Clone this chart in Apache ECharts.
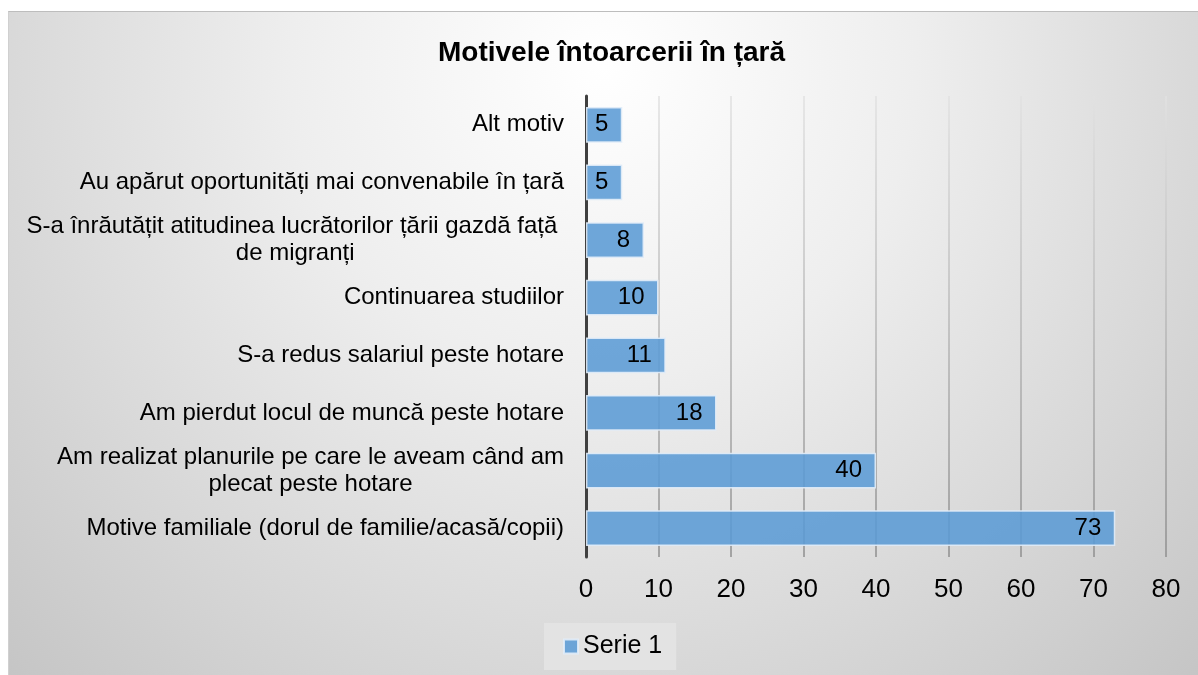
<!DOCTYPE html>
<html>
<head>
<meta charset="utf-8">
<script src="https://cdn.jsdelivr.net/npm/echarts@6/dist/echarts.min.js"></script>
<style>
  html, body { margin: 0; padding: 0; background: #ffffff; }
  #frame {
    position: absolute; left: 8px; top: 11px; width: 1190px; height: 664px;
    box-sizing: border-box; border-top: 1px solid #bdbdbd; border-left: 1px solid #d0d0d0;
  }
  #chart { width: 100%; height: 100%; }
</style>
</head>
<body>
<div id="frame"><div id="chart"></div></div>
<script>
// categorii (de jos in sus, ca pe axa ECharts)
var categories = [
  'Motive familiale (dorul de familie/acasă/copii)',
  'Am realizat planurile pe care le aveam când am\nplecat peste hotare',
  'Am pierdut locul de muncă peste hotare',
  'S-a redus salariul peste hotare',
  'Continuarea studiilor',
  'S-a înrăutățit atitudinea lucrătorilor țării gazdă față \nde migranți',
  'Au apărut oportunități mai convenabile în țară',
  'Alt motiv'
];
var values = [73, 40, 18, 11, 10, 8, 5, 5];
var seriesName = 'Serie 1';
var chartTitle = 'Motivele întoarcerii în țară';

var font = 'Arial, "Liberation Sans", sans-serif';
var myChart = echarts.init(document.getElementById('chart'));

var option = {
  animation: false,
  backgroundColor: {
    type: 'radial', x: 0.5, y: 0.08, r: 1.35,
    colorStops: [
      { offset: 0, color: '#ffffff' },
      { offset: 0.35, color: '#eeeeee' },
      { offset: 1, color: '#c2c2c2' }
    ]
  },
  title: {
    text: chartTitle,
    left: 424,
    top: 22,
    textStyle: { fontFamily: font, fontSize: 28, fontWeight: 'bold', color: '#000000' }
  },
  legend: {
    data: [seriesName],
    left: 535,
    top: 611,
    backgroundColor: '#e3e3e3',
    padding: [11, 14, 11, 19],
    itemWidth: 14,
    itemHeight: 14,
    itemGap: 8,
    icon: 'rect',
    textStyle: { fontFamily: font, fontSize: 25, color: '#000000' }
  },
  grid: { left: 577, right: 32, top: 84, bottom: 118, containLabel: false },
  xAxis: {
    type: 'value',
    min: 0,
    max: 80,
    interval: 10,
    axisLine: { show: false },
    axisTick: { show: false },
    axisLabel: { fontFamily: font, fontSize: 26, color: '#000000', margin: 20 },
    splitLine: {
      show: true,
      lineStyle: {
        width: 1.5,
        color: {
          type: 'linear', x: 0, y: 0, x2: 0, y2: 1,
          colorStops: [
            { offset: 0, color: '#e2e2e2' },
            { offset: 1, color: '#8e8e8e' }
          ]
        }
      }
    }
  },
  yAxis: {
    type: 'category',
    data: categories,
    axisLine: { show: true, lineStyle: { color: '#404040', width: 3 } },
    axisTick: { show: false },
    axisLabel: {
      margin: 22,
      formatter: function(v) {
        return v.split('\n').map(function(l) { return '{c|' + l + '}'; }).join('\n');
      },
      rich: {
        c: { fontFamily: font, fontSize: 24, color: '#000000', align: 'center', lineHeight: 27 }
      }
    }
  },
  series: [
    {
      name: seriesName,
      type: 'bar',
      data: values,
      barCategoryGap: '38%',
      itemStyle: {
        color: 'rgba(91,155,213,0.88)',
        borderColor: 'rgba(225,236,248,0.9)',
        borderWidth: 1.5
      },
      label: {
        show: true,
        position: 'insideRight',
        distance: 14,
        fontFamily: font,
        fontSize: 24,
        color: '#000000'
      }
    }
  ]
};

myChart.setOption(option);
</script>
</body>
</html>
